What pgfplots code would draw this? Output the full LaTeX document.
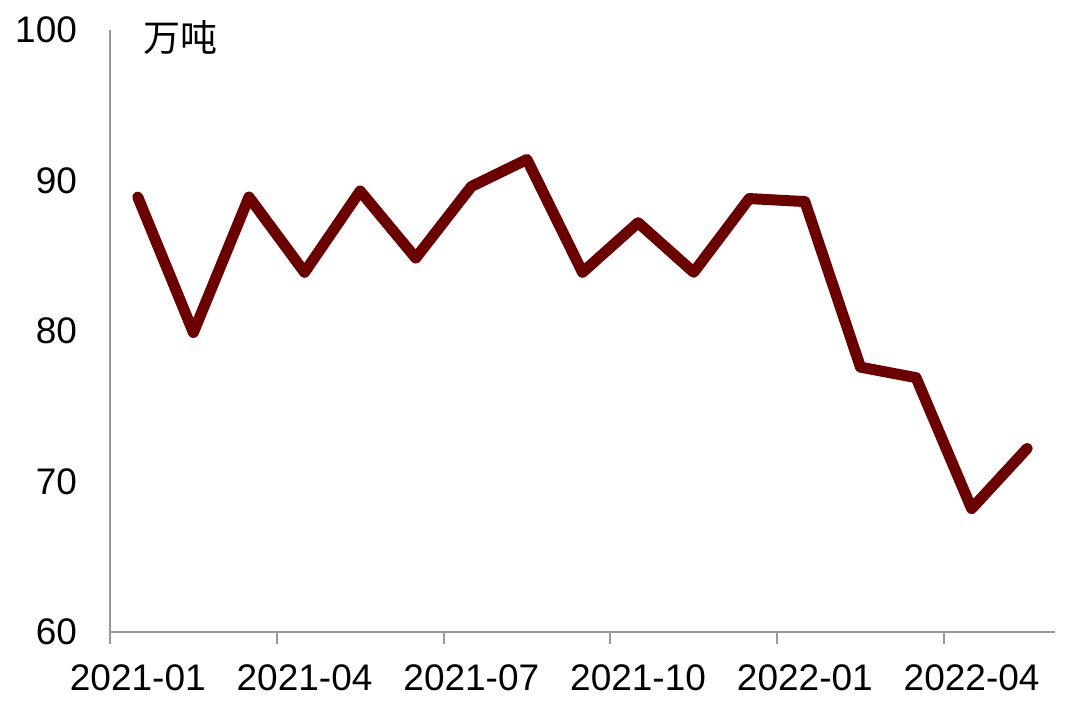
\documentclass[border=0pt]{standalone}
\usepackage{fontspec}
\setmainfont{Liberation Sans}
\newfontfamily\cjk{Noto Sans CJK SC}
\usepackage{pgfplots}
\pgfplotsset{compat=1.18}

\definecolor{linered}{HTML}{6B0000}
\definecolor{axisgray}{HTML}{999999}

\begin{document}
\begin{tikzpicture}
\path[use as bounding box] (0,0) rectangle (540pt,357pt);
\begin{axis}[
    at={(55pt,41pt)}, anchor=south west,
    scale only axis,
    width=472.5pt, height=301pt,
    xmin=-0.5, xmax=16.5,
    ymin=60, ymax=100,
    ytick={60,70,80,90,100},
    xtick={0,3,6,9,12,15},
    xticklabels={2021-01,2021-04,2021-07,2021-10,2022-01,2022-04},
    extra x ticks={-0.5,2.5,5.5,8.5,11.5,14.5},
    extra x tick labels={},
    extra x tick style={major tick length=6pt, tick align=outside,
        major tick style={draw=axisgray, line width=1pt}},
    axis x line*=bottom,
    axis y line*=left,
    axis line style={axisgray, line width=1pt, -},
    major tick length=0pt,
    ticklabel style={font=\fontsize{18.5}{20}\selectfont, text=black},
    /pgf/number format/assume math mode=true,
    xticklabel style={yshift=-13pt},
    yticklabel style={xshift=-13pt, anchor=east},
    clip=false,
]
\addplot[linered, line width=5.5pt, line join=round, line cap=round] coordinates {
(0,88.9) (1,79.9) (2,88.9) (3,83.9) (4,89.3) (5,84.85) (6,89.6) (7,91.4)
(8,83.9) (9,87.2) (10,83.9) (11,88.8) (12,88.6) (13,77.6) (14,76.9)
(15,68.2) (16,72.2)
};
\node[anchor=west, inner sep=0pt, font=\cjk\fontsize{18.5}{20}\selectfont]
  at (rel axis cs:0.035,0.988) {万吨};
\end{axis}
\end{tikzpicture}
\end{document}
